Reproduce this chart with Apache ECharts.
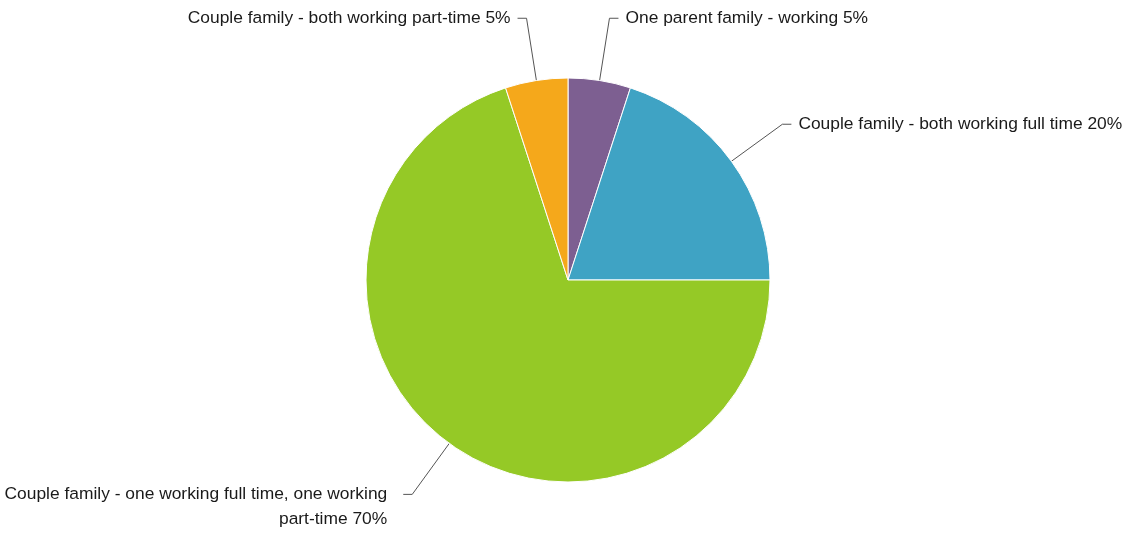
<!DOCTYPE html>
<html>
<head>
<meta charset="utf-8">
<script src="https://cdn.jsdelivr.net/npm/echarts@6/dist/echarts.min.js"></script>
<style>html,body{margin:0;padding:0;background:#fff}#c{width:1129px;height:533px}</style>
</head>
<body>
<div id="c"></div>
<script>
const categories = [
  "One parent family - working",
  "Couple family - both working full time",
  "Couple family - one working full time, one working part-time",
  "Couple family - both working part-time"
];
const labelTexts = [
  "One parent family - working 5%",
  "Couple family - both working full time 20%",
  "Couple family - one working full time, one working\npart-time 70%",
  "Couple family - both working part-time 5%"
];
const values = [5, 20, 70, 5];
const colors = ["#7d5f91", "#3fa3c4", "#95c926", "#f5a81b"];

const chart = echarts.init(document.getElementById('c'), null, {renderer: 'canvas'});
const data = categories.map((name, i) => {
  const item = { name: name, value: values[i], itemStyle: { color: colors[i] } };
  if (i === 2) {
    item.label = { padding: [0, 9, 0, 0] };
  }
  return item;
});
chart.setOption({
  backgroundColor: '#ffffff',
  animation: false,
  series: [{
    type: 'pie',
    center: [568, 280],
    radius: 202,
    startAngle: 90,
    clockwise: true,
    avoidLabelOverlap: false,
    itemStyle: { borderColor: '#ffffff', borderWidth: 1 },
    label: {
      show: true,
      formatter: p => {
        const t = labelTexts[p.dataIndex];
        return t.indexOf('\n') >= 0 ? '\n' + t : t;
      },
      fontFamily: '"Liberation Sans", Arial, Helvetica, sans-serif',
      fontSize: 17.4,
      lineHeight: 25,
      color: '#1a1a1a',
      distanceToLabelLine: 7
    },
    labelLine: {
      show: true,
      length: 63,
      length2: 9,
      lineStyle: { color: '#555555', width: 1 }
    },
    emphasis: { disabled: true },
    data: data
  }]
});
</script>
</body>
</html>
